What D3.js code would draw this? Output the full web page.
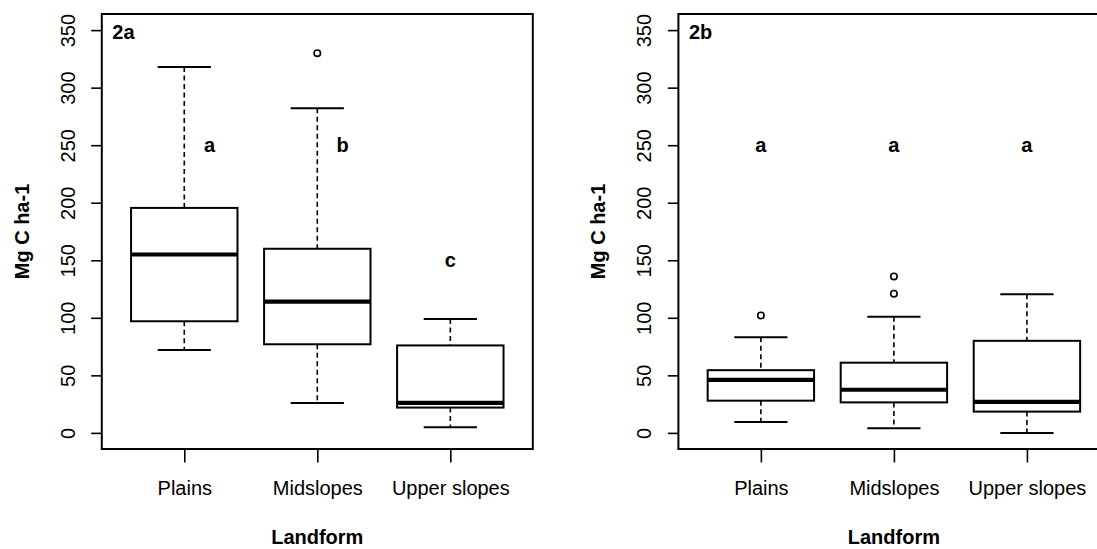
<!DOCTYPE html>
<html>
<head>
<meta charset="utf-8">
<script src="https://cdn.jsdelivr.net/npm/d3@7"></script>
<style>
  html, body { margin: 0; padding: 0; background: #fff; }
  svg { display: block; }
  text { font-family: "Liberation Sans", Arial, Helvetica, sans-serif; fill: #000; }
</style>
</head>
<body>
<svg id="chart" width="1097" height="549"></svg>
<script>
// Shared category and axis labels
const categories = ["Plains", "Midslopes", "Upper slopes"];
const yTicks = [0, 50, 100, 150, 200, 250, 300, 350];
const yTitle = "Mg C ha-1";
const xTitle = "Landform";

// Panel 2a: five-number summaries per landform
const panelA_label = "2a";
const panelA_whiskerLow = [72, 26, 5];
const panelA_q1 = [97, 77, 22];
const panelA_median = [155, 114, 26];
const panelA_q3 = [195.5, 160, 76];
const panelA_whiskerHigh = [318, 282, 99];
const panelA_outliers = [[], [330], []];
const panelA_letters = ["a", "b", "c"];
const panelA_letterX = [1.19, 2.19, 3];
const panelA_letterY = [250, 250, 150];

// Panel 2b
const panelB_label = "2b";
const panelB_whiskerLow = [9.5, 4, 0];
const panelB_q1 = [28, 26.5, 18.5];
const panelB_median = [46, 37.5, 27];
const panelB_q3 = [54.5, 61, 80];
const panelB_whiskerHigh = [83, 101, 120.5];
const panelB_outliers = [[102], [121, 136], []];
const panelB_letters = ["a", "a", "a"];
const panelB_letterX = [1, 2, 3];
const panelB_letterY = [250, 250, 250];

function buildPanel(label, lo, q1, med, q3, hi, outl, letters, lx, ly) {
  return {
    label,
    boxes: categories.map((c, i) => ({
      cat: c, idx: i + 1,
      lo: lo[i], q1: q1[i], med: med[i], q3: q3[i], hi: hi[i], out: outl[i]
    })),
    letters: letters.map((t, i) => ({ t, x: lx[i], y: ly[i] }))
  };
}

const panels = [
  buildPanel(panelA_label, panelA_whiskerLow, panelA_q1, panelA_median, panelA_q3,
             panelA_whiskerHigh, panelA_outliers, panelA_letters, panelA_letterX, panelA_letterY),
  buildPanel(panelB_label, panelB_whiskerLow, panelB_q1, panelB_median, panelB_q3,
             panelB_whiskerHigh, panelB_outliers, panelB_letters, panelB_letterX, panelB_letterY)
];

const svg = d3.select("#chart");

// Plot frame geometry (left edge of each panel)
const frameLefts = [101.8, 678.4];
const frameWidth = 431;
const frameTop = 14, frameBottom = 449;
const fontSize = 20;

// R-style 4% padding around the data domain
const xDomain = [0.5 - 0.12, 3.5 + 0.12];
const yDomain = [-14, 364];

panels.forEach((p, pi) => {
  const left = frameLefts[pi];
  const x = d3.scaleLinear().domain(xDomain).range([left, left + frameWidth]);
  const y = d3.scaleLinear().domain(yDomain).range([frameBottom, frameTop]);
  const xCat = d3.scalePoint().domain(categories).range([x(1), x(3)]);

  const g = svg.append("g");
  const boxW = x(1.4) - x(1);     // half box width (boxwex 0.8)
  const capW = x(1.2) - x(1);     // half staple width

  // y axis
  const yAxis = g.append("g")
    .attr("transform", `translate(${left},0)`)
    .call(d3.axisLeft(y).tickValues(yTicks).tickSize(10.6).tickSizeOuter(0));
  yAxis.select(".domain").remove();
  yAxis.selectAll(".tick line").attr("stroke", "#000").attr("stroke-width", 1.6);
  yAxis.selectAll(".tick text")
    .attr("transform", "rotate(-90)")
    .attr("x", 0).attr("y", -34).attr("dy", "0.35em")
    .attr("text-anchor", "middle")
    .style("font-size", fontSize + "px")
    .style("font-family", "'Liberation Sans', Arial, sans-serif")
    .attr("fill", "#000");

  // x axis
  const xAxis = g.append("g")
    .attr("transform", `translate(0,${frameBottom})`)
    .call(d3.axisBottom(xCat).tickSize(13.5).tickSizeOuter(0));
  xAxis.select(".domain").remove();
  xAxis.selectAll(".tick line").attr("stroke", "#000").attr("stroke-width", 1.6);
  xAxis.selectAll(".tick text")
    .attr("y", 38.7).attr("dy", "0.35em")
    .style("font-size", fontSize + "px")
    .style("font-family", "'Liberation Sans', Arial, sans-serif")
    .attr("fill", "#000");

  // boxes
  const bx = g.selectAll(".bx").data(p.boxes).join("g").attr("class", "bx");
  // whiskers (dashed)
  bx.append("line")
    .attr("x1", d => xCat(d.cat)).attr("x2", d => xCat(d.cat))
    .attr("y1", d => y(d.hi)).attr("y2", d => y(d.q3))
    .attr("stroke", "#000").attr("stroke-width", 1.6).attr("stroke-dasharray", "5,3.5");
  bx.append("line")
    .attr("x1", d => xCat(d.cat)).attr("x2", d => xCat(d.cat))
    .attr("y1", d => y(d.q1)).attr("y2", d => y(d.lo))
    .attr("stroke", "#000").attr("stroke-width", 1.6).attr("stroke-dasharray", "5,3.5");
  // staples
  bx.append("line")
    .attr("x1", d => xCat(d.cat) - capW).attr("x2", d => xCat(d.cat) + capW)
    .attr("y1", d => y(d.hi)).attr("y2", d => y(d.hi))
    .attr("stroke", "#000").attr("stroke-width", 2);
  bx.append("line")
    .attr("x1", d => xCat(d.cat) - capW).attr("x2", d => xCat(d.cat) + capW)
    .attr("y1", d => y(d.lo)).attr("y2", d => y(d.lo))
    .attr("stroke", "#000").attr("stroke-width", 2);
  // box
  bx.append("rect")
    .attr("x", d => xCat(d.cat) - boxW).attr("width", boxW * 2)
    .attr("y", d => y(d.q3)).attr("height", d => y(d.q1) - y(d.q3))
    .attr("fill", "#fff").attr("stroke", "#000").attr("stroke-width", 2);
  // median
  bx.append("line")
    .attr("x1", d => xCat(d.cat) - boxW).attr("x2", d => xCat(d.cat) + boxW)
    .attr("y1", d => y(d.med)).attr("y2", d => y(d.med))
    .attr("stroke", "#000").attr("stroke-width", 4.2);
  // outliers
  bx.selectAll("circle").data(d => d.out.map(v => ({ cat: d.cat, v }))).join("circle")
    .attr("cx", d => xCat(d.cat)).attr("cy", d => y(d.v)).attr("r", 3.2)
    .attr("fill", "none").attr("stroke", "#000").attr("stroke-width", 1.6);

  // significance letters
  g.selectAll(".letter").data(p.letters).join("text").attr("class", "letter")
    .attr("x", d => x(d.x)).attr("y", d => y(d.y)).attr("dy", "0.35em")
    .attr("text-anchor", "middle")
    .style("font-size", fontSize + "px").style("font-weight", "bold")
    .text(d => d.t);

  // panel label
  g.append("text")
    .attr("x", left + 10.5).attr("y", 39.3)
    .style("font-size", fontSize + "px").style("font-weight", "bold")
    .text(p.label);

  // frame
  g.append("rect")
    .attr("x", left).attr("y", frameTop)
    .attr("width", frameWidth).attr("height", frameBottom - frameTop)
    .attr("fill", "none").attr("stroke", "#000").attr("stroke-width", 2);

  // axis titles
  g.append("text")
    .attr("x", left + frameWidth / 2).attr("y", 536.8).attr("dy", "0.35em")
    .attr("text-anchor", "middle")
    .style("font-size", fontSize + "px").style("font-weight", "bold")
    .text(xTitle);
  g.append("text")
    .attr("transform", `translate(${left - 80},${(frameTop + frameBottom) / 2}) rotate(-90)`)
    .attr("dy", "0.35em").attr("text-anchor", "middle")
    .style("font-size", fontSize + "px").style("font-weight", "bold")
    .text(yTitle);
});
</script>
</body>
</html>
